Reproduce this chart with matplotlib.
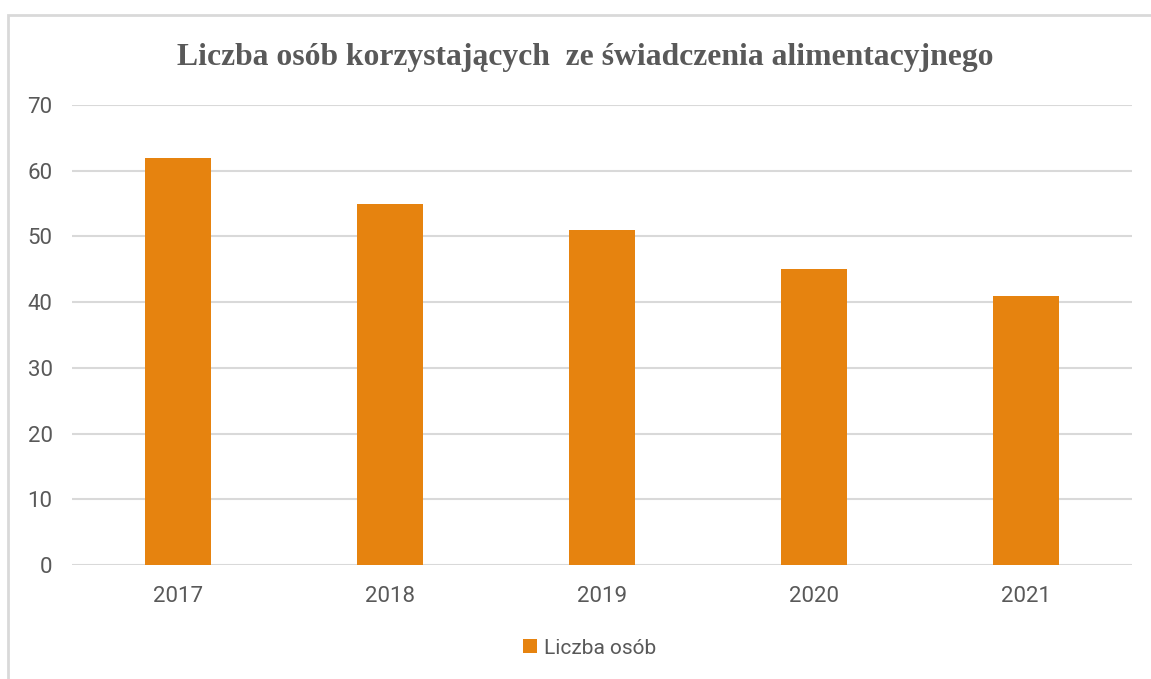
import numpy as np
import matplotlib.pyplot as plt
from matplotlib.patches import Rectangle

lata = ['2017', '2018', '2019', '2020', '2021']
liczba_osob = [62, 55, 51, 45, 41]
tytul = 'Liczba osób korzystających  ze świadczenia alimentacyjnego'
etykieta = 'Liczba osób'

POMARANCZ = '#E6830F'
SZARY = '#595959'
SIATKA = '#D9D9D9'
czcionka = ['Roboto', 'DejaVu Sans']

fig = plt.figure(figsize=(11.51, 6.79), dpi=100)
ax = fig.add_axes([72/1151, 1-565/679, 1060/1151, 460/679])

x = np.arange(len(lata))
ax.bar(x, liczba_osob, width=0.316, color=POMARANCZ, label=etykieta, zorder=3)

ax.set_xlim(-0.5, len(lata) - 0.5)
ax.set_ylim(0, 70)
ax.set_yticks(range(0, 71, 10))
ax.set_xticks(x)
ax.set_xticklabels(lata)
ax.yaxis.grid(True, color=SIATKA, linewidth=1.5, zorder=0)
for s in ax.spines.values():
    s.set_visible(False)
ax.tick_params(length=0, colors=SZARY, labelsize=16)
ax.tick_params(axis='y', pad=14)
ax.tick_params(axis='x', pad=15)
for t in ax.get_xticklabels() + ax.get_yticklabels():
    t.set_family(czcionka)

# obramowanie wykresu (przyciete z prawej i od dolu)
fig.patches.append(Rectangle((8/1151, -0.1), 1.2, 1-15/679+0.1, transform=fig.transFigure,
                             fill=False, edgecolor=SIATKA, linewidth=2))

fig.text(585/1151, 1-65/679, tytul, ha='center', va='baseline', fontsize=22.75,
         fontweight='bold', color=SZARY, family='Liberation Serif')

leg = fig.legend(loc='center', bbox_to_anchor=(590/1151, 1-648/679), frameon=False,
                 handlelength=0.65, handleheight=0.65, handletextpad=0.35,
                 prop={'family': czcionka, 'size': 15})
for t in leg.get_texts():
    t.set_color(SZARY)

fig.savefig('out.png', dpi=100)
